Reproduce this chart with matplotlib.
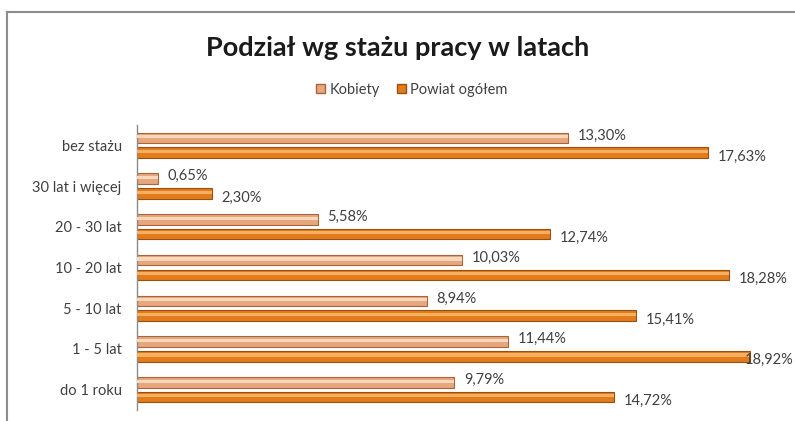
import matplotlib
matplotlib.use("Agg")
import matplotlib.pyplot as plt
from matplotlib.patches import Rectangle
from matplotlib.lines import Line2D
import numpy as np

categories = ["do 1 roku", "1 - 5 lat", "5 - 10 lat", "10 - 20 lat", "20 - 30 lat", "30 lat i więcej", "bez stażu"]
kobiety = [9.79, 11.44, 8.94, 10.03, 5.58, 0.65, 13.30]
powiat = [14.72, 18.92, 15.41, 18.28, 12.74, 2.30, 17.63]
series_names = ["Kobiety", "Powiat ogółem"]

plt.rcParams['font.family'] = ['Lato', 'DejaVu Sans']

fig = plt.figure(figsize=(7.95, 4.21), dpi=100)
fig.patch.set_facecolor("white")

# chart frame
fig.add_artist(Line2D([7/795, 7/795], [0, 1 - 12/421], color="#8c8c8c", lw=1.5, transform=fig.transFigure))
fig.add_artist(Line2D([7/795, 1], [1 - 12/421, 1 - 12/421], color="#8c8c8c", lw=1.5, transform=fig.transFigure))

ax = fig.add_axes([137/795, 1 - 410/421, 648/795, 285/421])
y = np.arange(len(categories))
off = 0.18
h = 0.26
c_k, e_k, hl_k = "#e6a77d", "#a9643a", "#f8d8bd"
c_p, e_p, hl_p = "#e27c1c", "#9a4e10", "#f5b062"

ax.barh(y + off, kobiety, height=h, color=c_k, edgecolor=e_k, linewidth=0.8, zorder=2)
ax.barh(y - off, powiat, height=h, color=c_p, edgecolor=e_p, linewidth=0.8, zorder=2)
# highlight stripes
ax.barh(y + off + 0.03, kobiety, height=h * 0.3, color=hl_k, linewidth=0, zorder=3)
ax.barh(y - off + 0.03, powiat, height=h * 0.3, color=hl_p, linewidth=0, zorder=3)

xmax = 20
def lx(v):
    return v + 0.3 if v < 18.5 else v - 0.15

for yi, v in zip(y, kobiety):
    ax.text(lx(v), yi + off + 0.06, f"{v:.2f}%".replace(".", ","), va="center", ha="left",
            fontsize=10.5, color="#404040", clip_on=False, zorder=4)
for yi, v in zip(y, powiat):
    ax.text(lx(v), yi - off - 0.1, f"{v:.2f}%".replace(".", ","), va="center", ha="left",
            fontsize=10.5, color="#404040", clip_on=False, zorder=4)

ax.set_xlim(0, xmax)
ax.set_ylim(-0.5, len(categories) - 0.5)
ax.set_yticks(y)
ax.set_yticklabels(categories, fontsize=10.5, color="#404040")
ax.tick_params(axis="y", length=0, pad=11)
ax.set_xticks([])
for s in ["top", "right", "bottom"]:
    ax.spines[s].set_visible(False)
ax.spines["left"].set_color("#8c8c8c")
ax.spines["left"].set_linewidth(1)

fig.text(398/795, 1 - 48/421, "Podział wg stażu pracy w latach", ha="center", va="center",
         fontsize=19.5, fontweight="bold", color="#1a1a1a")

handles = [Rectangle((0, 0), 1, 1, facecolor=c_k, edgecolor=e_k),
           Rectangle((0, 0), 1, 1, facecolor=c_p, edgecolor=e_p)]
fig.legend(handles, series_names, loc="center", bbox_to_anchor=(412/795, 1 - 90/421), ncol=2,
           frameon=False, fontsize=10.5, handlelength=0.6, handleheight=0.6, handletextpad=0.3,
           columnspacing=1.2, labelcolor="#404040")

fig.savefig("out.png", dpi=100, facecolor="white")
